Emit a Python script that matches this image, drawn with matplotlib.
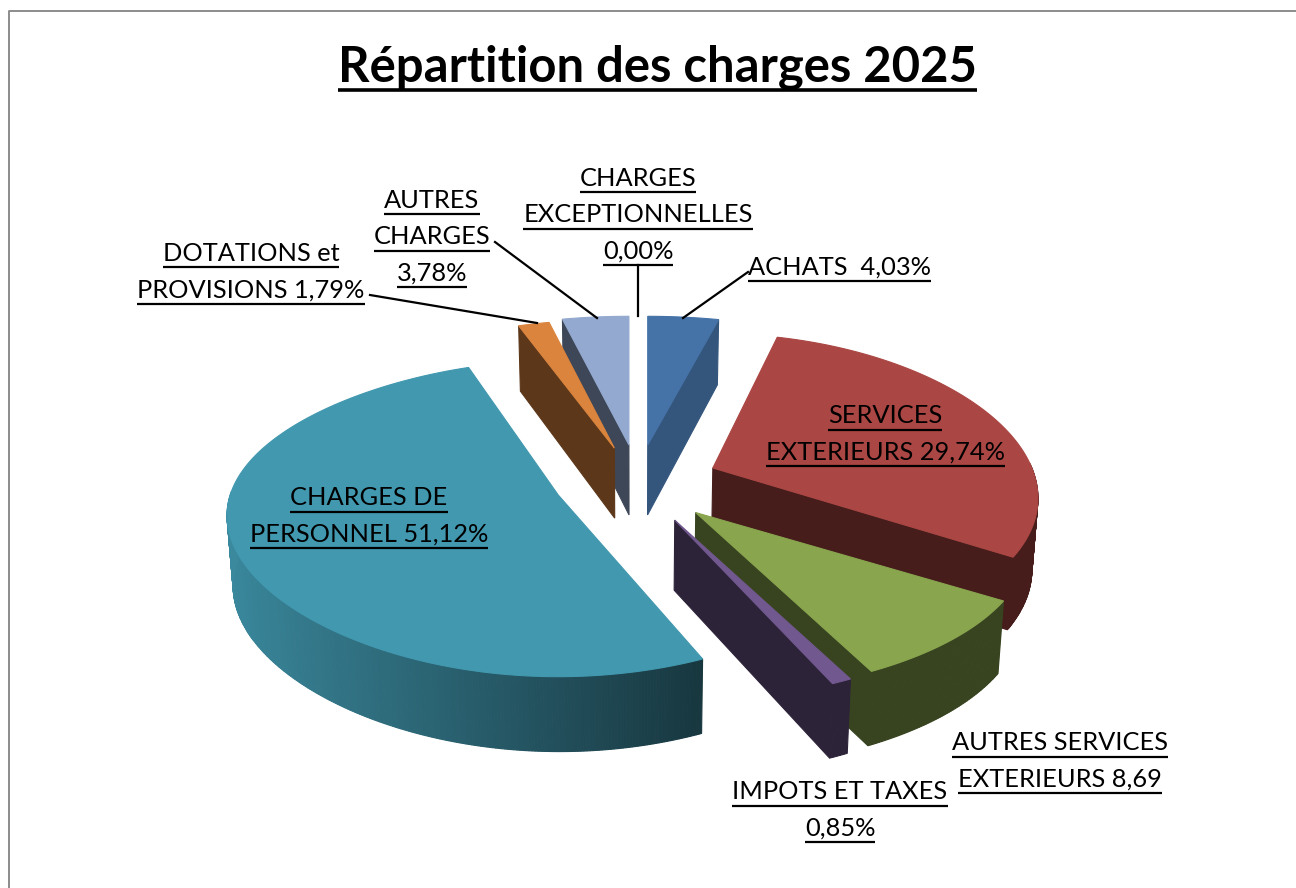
#!/usr/bin/env python3
import matplotlib

matplotlib.use("Agg")
import matplotlib.pyplot as plt
import numpy as np
from matplotlib.colors import to_rgb
from matplotlib.patches import Polygon

TITLE = "Répartition des charges 2025"

CATEGORIES = [
    "ACHATS",
    "SERVICES EXTERIEURS",
    "AUTRES SERVICES EXTERIEURS",
    "IMPOTS ET TAXES",
    "CHARGES DE PERSONNEL",
    "DOTATIONS et PROVISIONS",
    "AUTRES CHARGES",
    "CHARGES EXCEPTIONNELLES",
]
VALUES = [4.03, 29.74, 8.69, 0.85, 51.12, 1.79, 3.78, 0.00]

LABEL_LINES = [
    ["ACHATS  4,03%"],
    ["SERVICES", "EXTERIEURS 29,74%"],
    ["AUTRES SERVICES", "EXTERIEURS 8,69"],
    ["IMPOTS ET TAXES", "0,85%"],
    ["CHARGES DE", "PERSONNEL 51,12%"],
    ["DOTATIONS et", "PROVISIONS 1,79%"],
    ["AUTRES", "CHARGES", "3,78%"],
    ["CHARGES", "EXCEPTIONNELLES", "0,00%"],
]

COLORS = ["#4572A7", "#AA4643", "#89A54E", "#71588F", "#4198AF", "#DB843D", "#93A9CF", "#4F81BD"]

# label anchor in pixels: centre x, first baseline y
LABEL_POS = [(839, 275), (885, 423), (1060, 750), (840, 799), (369, 505), (251, 261), (432, 208), (638, 186)]
LINE_STEP = 36.3

# leader lines in pixels, None where the label sits on the slice
LEADERS = [
    ((748, 272), (683, 318)),
    None,
    None,
    None,
    None,
    ((370, 295), (537, 323)),
    ((495, 242), (597, 318)),
    ((638, 265), (638, 316)),
]

# side darkness: radial faces, then outer wall at the left and right end of the gradient
FACE_SHADE = [0.75, 0.41, 0.41, 0.40, 0.40, 0.42, 0.42, 0.42]
WALL_SHADE = [
    (0.75, 0.75),
    (0.41, 0.41),
    (0.41, 0.41),
    (0.40, 0.40),
    (0.90, 0.36),
    (0.42, 0.42),
    (0.42, 0.42),
    (0.42, 0.42),
]
DRAW_ORDER = [0, 6, 5, 1, 2, 3, 4]

CX, CY = 635.0, 481.5
EXPLODE = 0.25
DEPTH = 70.0

# per slice projection: radius x, radius y, perspective x (linear, squared), perspective y
RIM_RX = [331, 319, 327, 327, 328, 325, 331, 331]
RIM_RY = [155, 158, 155, 155, 158, 155, 155, 155]
PERSP_X = [0.15, 0.20, 0.20, 0.20, 0.15, 0.15, 0.15, 0.15]
PERSP_X2 = [0.0, 0.0, 0.0, 0.0, 0.07, 0.0, 0.0, 0.0]
PERSP_Y = [0.17, 0.15, 0.17, 0.17, 0.15, 0.17, 0.17, 0.17]
TIP_NUDGE = [(2, 0), (-1, 1), (3, 0), (3, 0), (2, -2), (4, 2), (4, 0), (0, 0)]


def px(size):
    return size * 72.0 / 100.0


def bottom_point(x, y, v):
    return CX + (x - CX) * 0.985, y + DEPTH * (1.0 - 0.07 * v)


def shaded(color, factor):
    return tuple(c * factor for c in to_rgb(color))


def slice_polygons(index, start, stop):
    color = COLORS[index]
    mid = np.radians((start + stop) / 2.0)
    mx, my = np.sin(mid), np.cos(mid)
    tip = (
        CX + 340.0 * EXPLODE * mx + TIP_NUDGE[index][0],
        CY - 160.0 * EXPLODE * my * (1.0 - 0.08 * my) + TIP_NUDGE[index][1],
    )

    angles = np.radians(np.linspace(start, stop, max(int(stop - start) * 2, 3)))
    us, vs = np.sin(angles), np.cos(angles)
    rim = [
        (
            tip[0] + RIM_RX[index] * u * (1.0 - PERSP_X[index] * v - PERSP_X2[index] * v * v),
            tip[1] - RIM_RY[index] * v * (1.0 - PERSP_Y[index] * v),
        )
        for u, v in zip(us, vs)
    ]
    low = [bottom_point(x, y, v) for (x, y), v in zip(rim, vs)]
    tip_low = bottom_point(tip[0], tip[1], 0.0)

    parts = []
    # radial faces turned to the viewer
    if np.cos(np.radians(start - 90.0)) < 0:
        parts.append(([tip, rim[0], low[0], tip_low], shaded(color, FACE_SHADE[index])))
    if np.cos(np.radians(stop + 90.0)) < 0:
        parts.append(([tip, rim[-1], low[-1], tip_low], shaded(color, FACE_SHADE[index])))
    # outer wall as thin strips so the shade can run along it
    for i in range(len(rim) - 1):
        if vs[i] > 0.02 and vs[i + 1] > 0.02:
            continue
        factor = np.interp((us[i] + us[i + 1]) / 2.0, [-1.0, 0.41], WALL_SHADE[index])
        parts.append(([rim[i], rim[i + 1], low[i + 1], low[i]], shaded(color, factor)))
    parts.append(([tip] + rim, to_rgb(color)))
    return parts


def underlined(ax, renderer, x, y, text, size, weight, offset, thick):
    label = ax.text(x, y, text, fontsize=px(size), fontweight=weight, family="Lato", ha="center", va="baseline", color="black")
    box = label.get_window_extent(renderer)
    ax.plot([box.x0, box.x1], [y + offset, y + offset], color="black", lw=thick, solid_capstyle="butt")


def main():
    fig = plt.figure(figsize=(12.96, 8.88), dpi=100)
    ax = fig.add_axes([0, 0, 1, 1])
    ax.set_xlim(0, 1296)
    ax.set_ylim(888, 0)
    ax.axis("off")
    renderer = fig.canvas.get_renderer()

    # chart frame runs off the right and bottom of the crop
    ax.plot([8.5, 8.5, 1296], [888, 11.5, 11.5], color="#8c8c8c", lw=1.4)

    shares = np.array(VALUES) / np.sum(VALUES) * 360.0
    stops = np.cumsum(shares)
    starts = stops - shares
    for index in DRAW_ORDER:
        for points, color in slice_polygons(index, starts[index], stops[index]):
            ax.add_patch(Polygon(points, closed=True, facecolor=color, edgecolor=color, lw=0.8))

    for leader in LEADERS:
        if leader is not None:
            ax.plot([leader[0][0], leader[1][0]], [leader[0][1], leader[1][1]], color="black", lw=1.6)

    underlined(ax, renderer, 657.5, 81, TITLE, 49, "bold", 9, 2.6)
    for lines, (x, y) in zip(LABEL_LINES, LABEL_POS):
        for row, line in enumerate(lines):
            underlined(ax, renderer, x, y + row * LINE_STEP, line, 25.4, "normal", 6.5, 1.6)

    fig.savefig("out.png", dpi=100, facecolor="white")
    plt.close(fig)


if __name__ == "__main__":
    main()
